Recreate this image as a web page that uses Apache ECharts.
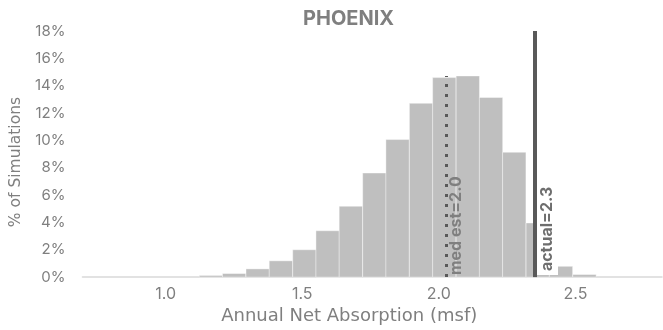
<!DOCTYPE html>
<html>
<head>
<meta charset="utf-8">
<script src="https://cdn.jsdelivr.net/npm/echarts@6/dist/echarts.min.js"></script>
<style>html,body{margin:0;padding:0;background:#fff}#c{width:663px;height:330px}</style>
</head>
<body>
<div id="c"></div>
<script>
// Data
const title = 'PHOENIX';
const binCenters = [1.166, 1.251, 1.337, 1.422, 1.508, 1.593, 1.678, 1.764, 1.849, 1.935, 2.020, 2.106, 2.191, 2.276, 2.362, 2.447, 2.533];
const pctSimulations = [0.12, 0.26, 0.60, 1.19, 2.00, 3.39, 5.18, 7.61, 10.06, 12.71, 14.59, 14.71, 13.14, 9.13, 3.96, 0.79, 0.19];
const binWidth = 0.0854;
const xTickValues = [1.0, 1.5, 2.0, 2.5];
const medianEst = 2.028;
const medianLabel = 'med est=2.0';
const medianLineTop = 14.7;
const actualValue = 2.352;
const actualLabel = 'actual=2.3';
const actualLineTop = 18;
const xName = 'Annual Net Absorption (msf)';
const yName = '% of Simulations';

const FONT = 'Inter';
const NAMEFONT = 'DejaVu Sans';
const GRAY = '#7f7f7f';
const chart = echarts.init(document.getElementById('c'), null, {renderer: 'canvas'});
chart.setOption({
  animation: false,
  backgroundColor: '#ffffff',
  title: {
    text: title, left: 298, top: 4,
    textStyle: {fontFamily: FONT, fontSize: 20, fontWeight: 'bold', color: GRAY}
  },
  grid: {left: 73, right: 1, top: 31, bottom: 47},
  xAxis: {
    type: 'value', min: 0.6957, max: 2.8167,
    axisLine: {lineStyle: {color: '#d9d9d9', width: 1.5}},
    axisTick: {show: false},
    splitLine: {show: false},
    axisLabel: {customValues: xTickValues, formatter: v => v.toFixed(1), color: GRAY, fontFamily: FONT, fontSize: 16, margin: 9},
    name: xName, nameLocation: 'middle', nameGap: 28,
    nameTextStyle: {color: GRAY, fontFamily: NAMEFONT, fontSize: 18, padding: [0, 46, 0, 0]}
  },
  yAxis: {
    type: 'value', min: 0, max: 18, interval: 2,
    axisLine: {show: false}, axisTick: {show: false}, splitLine: {show: false},
    axisLabel: {formatter: '{value}%', color: GRAY, fontFamily: FONT, fontSize: 15, margin: 17},
    name: yName, nameLocation: 'middle', nameGap: 56, nameRotate: 90,
    nameTextStyle: {color: GRAY, fontFamily: NAMEFONT, fontSize: 15.5, padding: [0, 16, 0, 0]}
  },
  series: [
    {
      type: 'custom',
      data: binCenters.map((c, i) => [c, pctSimulations[i]]),
      renderItem: function (params, api) {
        const x = api.value(0), y = api.value(1);
        const p0 = api.coord([x - binWidth / 2, y]);
        const p1 = api.coord([x + binWidth / 2, 0]);
        return {type: 'rect', shape: {x: p0[0], y: p0[1], width: p1[0] - p0[0], height: p1[1] - p0[1]},
          style: {fill: '#bfbfbf', stroke: '#ffffff', lineWidth: 0.4}};
      },
      z: 1
    },
    {
      type: 'line', data: [], z: 3,
      markLine: {
        symbol: 'none', silent: true,
        lineStyle: {color: '#595959', width: 3, type: [3, 7]},
        label: {show: true, position: 'insideStartBottom', formatter: medianLabel,
          color: GRAY, fontFamily: FONT, fontSize: 16, fontWeight: 'bold', distance: 2},
        data: [[{coord: [medianEst, 0]}, {coord: [medianEst, medianLineTop]}]]
      }
    },
    {
      type: 'line', data: [], z: 4,
      markLine: {
        symbol: 'none', silent: true,
        lineStyle: {color: '#595959', width: 4, type: 'solid'},
        label: {show: true, position: 'insideStartBottom', formatter: actualLabel,
          color: '#6e6e6e', fontFamily: FONT, fontSize: 16, fontWeight: 'bold', distance: 2,
          backgroundColor: '#ffffff', padding: [2, 4, 3, 4]},
        data: [[{coord: [actualValue, 0]}, {coord: [actualValue, actualLineTop]}]]
      }
    }
  ]
});
</script>
</body>
</html>
